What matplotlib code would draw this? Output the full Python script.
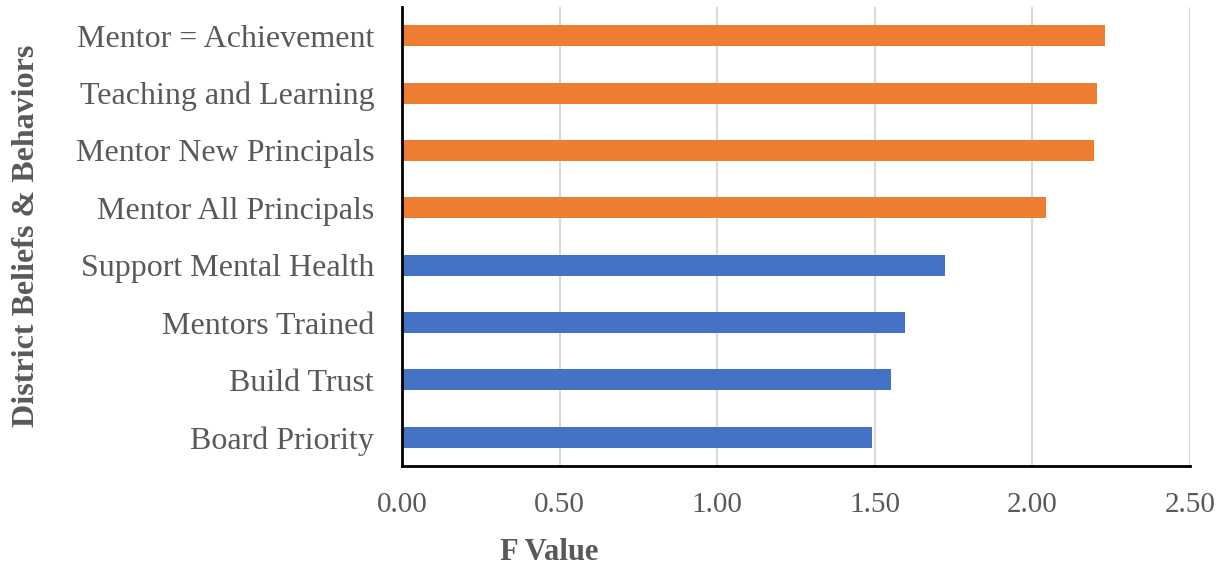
import matplotlib
matplotlib.use("Agg")
import matplotlib.pyplot as plt

categories = [
    "Board Priority",
    "Build Trust",
    "Mentors Trained",
    "Support Mental Health",
    "Mentor All Principals",
    "Mentor New Principals",
    "Teaching and Learning",
    "Mentor = Achievement",
]
f_values = [1.491, 1.550, 1.596, 1.724, 2.042, 2.197, 2.204, 2.229]
groups = ["low", "low", "low", "low", "high", "high", "high", "high"]
x_ticks = [0.0, 0.5, 1.0, 1.5, 2.0, 2.5]
x_tick_labels = ["0.00", "0.50", "1.00", "1.50", "2.00", "2.50"]

group_colors = {"low": "#4472C4", "high": "#ED7D31"}
text_gray = "#595959"

plt.rcParams["font.family"] = ["Liberation Serif", "DejaVu Serif"]

fig = plt.figure(figsize=(12.28, 5.71), dpi=100)
ax = fig.add_axes([402 / 1228, 1 - 466 / 571, (1190 - 402) / 1228, (466 - 7) / 571])

ypos = list(range(len(categories)))
ax.barh(ypos, f_values, height=0.366,
        color=[group_colors[g] for g in groups], zorder=3)

ax.set_xlim(0, 2.5)
ax.set_ylim(-0.5, len(categories) - 0.5)
ax.set_xticks(x_ticks)
ax.set_xticklabels(x_tick_labels, fontsize=21, color=text_gray)
ax.set_yticks(ypos)
ax.set_yticklabels(categories, fontsize=23, color=text_gray)
ax.tick_params(axis="y", length=0, pad=20)
ax.tick_params(axis="x", length=0, pad=19)

ax.grid(axis="x", color="#D9D9D9", linewidth=1.5, zorder=0)
ax.set_axisbelow(True)
for side in ("top", "right"):
    ax.spines[side].set_visible(False)
for side in ("left", "bottom"):
    ax.spines[side].set_color("black")
    ax.spines[side].set_linewidth(2)
    ax.spines[side].set_zorder(4)

fig.text(549 / 1228, 1 - 553 / 571, "F Value", fontsize=22, fontweight="bold",
         color=text_gray, ha="center", va="center")
fig.text(27 / 1228, 1 - 236 / 571, "District Beliefs & Behaviors", fontsize=23,
         fontweight="bold", color=text_gray, ha="center", va="center",
         rotation=90)

fig.savefig("out.png", dpi=100, facecolor="white")
